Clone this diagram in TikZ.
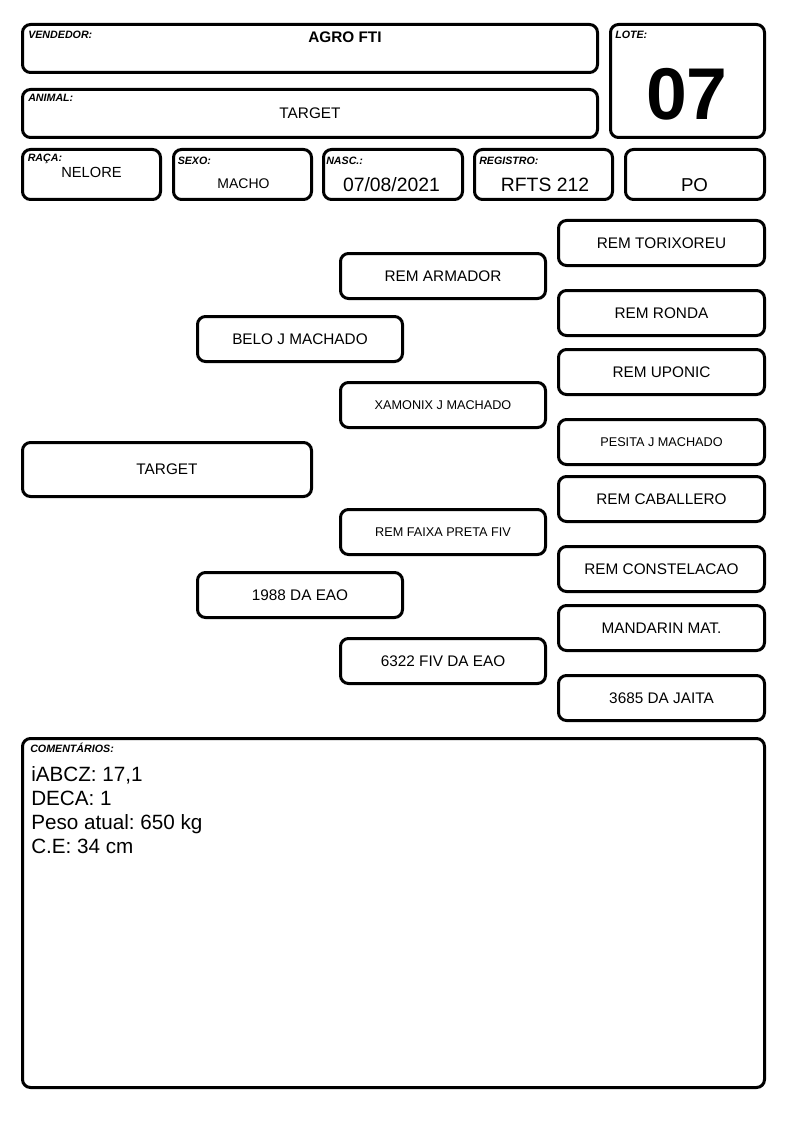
\documentclass[tikz,border=0pt]{standalone}
\usepackage{fontspec}
\setmainfont{Liberation Sans}
\frenchspacing
\newcommand\pedA{\fontsize{11.5}{13}\selectfont}
\newcommand\pedB{\fontsize{9.5}{11}\selectfont}
\newcommand\bx[7]{\node[box,font=#7,minimum width={(#4-#2-3)*0.75pt},minimum height={(#5-#3-3)*0.75pt}] (#1) at ({(#2+#4)/2},{(#3+#5)/2}) {#6};}
\begin{document}
\begin{tikzpicture}[x=0.75pt,y=-0.75pt,
  box/.style={draw, line width=2.25pt, rounded corners=6pt, inner sep=0pt, align=center},
  lbl/.style={anchor=base west, inner sep=0pt, font=\fontsize{8}{9}\selectfont\bfseries\itshape},
  val/.style={anchor=base, inner sep=0pt},
  cmt/.style={anchor=base west,inner sep=0pt,font=\fontsize{15.5}{18}\selectfont\frenchspacing}]
\useasboundingbox[fill=white] (0,0) rectangle (794,1123);
% header boxes
\bx{vend}{21}{23}{599}{74}{}{}
\bx{anim}{21}{88}{599}{139}{}{}
\bx{lote}{609}{23}{766}{139}{}{}
\bx{raca}{21}{148}{162}{201}{}{}
\bx{sexo}{172}{148}{313}{201}{}{}
\bx{nasc}{322}{148}{464}{201}{}{}
\bx{reg}{473}{148}{614}{201}{}{}
\bx{po}{624}{148}{766}{201}{}{}
% labels
\node[lbl] (lvend) at (28,39) {VENDEDOR:};
\node[lbl] (lanim) at (28,102) {ANIMAL:};
\node[lbl] (llote) at (615,39) {LOTE:};
\node[lbl] (lraca) at (27.5,162) {RAÇA:};
\node[lbl] (lsexo) at (177.5,165) {SEXO:};
\node[lbl] (lnasc) at (326,165) {NASC.:};
\node[lbl] (lreg) at (479,165) {REGISTRO:};
% values
\node[val,font=\fontsize{11.5}{13}\selectfont\bfseries] (vvend) at (345,43) {AGRO FTI};
\node[val,font=\fontsize{11.5}{13}\selectfont] (vanim) at (310,119) {TARGET};
\node[val,font=\fontsize{55}{60}\selectfont\bfseries] (vlote) at (687,119.5) {07};
\node[val,font=\fontsize{11}{13}\selectfont] (vraca) at (91.5,178) {NELORE};
\node[val,font=\fontsize{10.5}{12}\selectfont] (vsexo) at (243.5,189) {MACHO};
\node[val,font=\fontsize{14.5}{16}\selectfont] (vnasc) at (391.5,192) {07/08/2021};
\node[val,font=\fontsize{14.5}{16}\selectfont] (vreg) at (545,192) {RFTS 212};
\node[val,font=\fontsize{14}{16}\selectfont] (vpo) at (694.5,192) {PO};
% pedigree
\bx{target}{21}{441}{313}{498}{TARGET}{\pedA}
\bx{pai}{196}{315}{404}{363}{BELO J MACHADO}{\pedA}
\bx{mae}{196}{571}{404}{619}{1988 DA EAO}{\pedA}
\bx{avo1}{339}{252}{547}{300}{REM ARMADOR}{\pedA}
\bx{avo2}{339}{381}{547}{429}{XAMONIX J MACHADO}{\pedB}
\bx{avo3}{339}{508}{547}{556}{REM FAIXA PRETA FIV}{\pedB}
\bx{avo4}{339}{637}{547}{685}{6322 FIV DA EAO}{\pedA}
\bx{b1}{557}{219}{766}{267}{REM TORIXOREU}{\pedA}
\bx{b2}{557}{289}{766}{337}{REM RONDA}{\pedA}
\bx{b3}{557}{348}{766}{396}{REM UPONIC}{\pedA}
\bx{b4}{557}{418}{766}{466}{PESITA J MACHADO}{\pedB}
\bx{b5}{557}{475}{766}{523}{REM CABALLERO}{\pedA}
\bx{b6}{557}{545}{766}{593}{REM CONSTELACAO}{\pedA}
\bx{b7}{557}{604}{766}{652}{MANDARIN MAT.}{\pedA}
\bx{b8}{557}{674}{766}{722}{3685 DA JAITA}{\pedA}
% comments
\bx{com}{21}{737}{766}{1089}{}{}
\node[lbl] (lcom) at (30,752) {COMENTÁRIOS:};
\node[cmt] (c1) at (31,781) {iABCZ: 17,1};
\node[cmt] (c2) at (31,805) {DECA: 1};
\node[cmt] (c3) at (31,829) {Peso atual: 650 kg};
\node[cmt] (c4) at (31,853) {C.E: 34 cm};
\end{tikzpicture}
\end{document}
